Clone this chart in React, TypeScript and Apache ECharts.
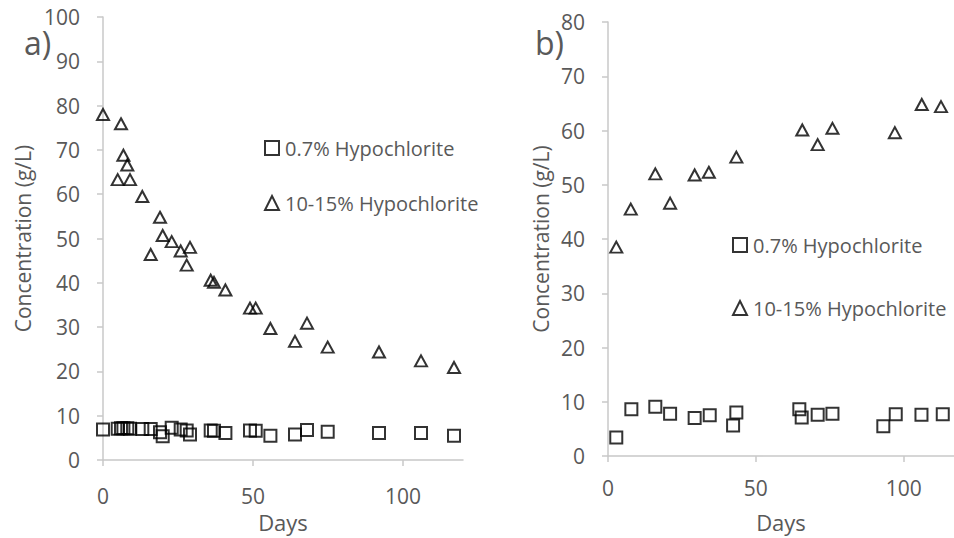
import React, { useEffect, useRef } from "react";
import * as echarts from "echarts";

const seriesNames = ["0.7% Hypochlorite", "10-15% Hypochlorite"];

// Panel a)
const daysA = [0, 4.9, 6, 6.8, 8.1, 9, 13.1, 15.9, 19, 19.9, 22.9, 25.9, 27.9, 29, 35.9, 37, 40.8, 49, 50.9, 55.8, 64, 68, 74.9, 92, 106, 117];
const lowA = [6.9, 7.1, 7.2, 7.2, 7.2, 7.1, 7.0, 7.0, 6.3, 5.4, 7.3, 6.9, 6.7, 5.8, 6.7, 6.6, 6.1, 6.7, 6.6, 5.5, 5.8, 6.8, 6.4, 6.1, 6.1, 5.5];
const highA = [78.0, 63.3, 75.9, 68.8, 66.6, 63.3, 59.5, 46.4, 54.8, 50.7, 49.3, 47.2, 44.0, 48.0, 40.6, 40.1, 38.4, 34.3, 34.3, 29.7, 26.8, 30.9, 25.5, 24.4, 22.4, 20.9];

// Panel b)
const daysLowB = [2.8, 7.9, 16, 21, 29.3, 34.4, 43.4, 42.3, 64.7, 65.5, 70.9, 75.9, 93.1, 97.3, 106, 113.2];
const lowB = [3.4, 8.6, 9.1, 7.8, 7.0, 7.5, 8.0, 5.6, 8.6, 7.1, 7.6, 7.8, 5.5, 7.7, 7.6, 7.7];
const daysHighB = [2.8, 7.7, 16, 21, 29.3, 34.1, 43.4, 65.7, 70.9, 75.9, 97, 106.1, 112.6];
const highB = [38.5, 45.5, 52.0, 46.6, 51.8, 52.3, 55.1, 60.1, 57.4, 60.4, 59.6, 64.8, 64.4];

const xTicks = [0, 50, 100];

const FONT = "Open Sans";
const GREY = "#595959";
const AXIS = "#c8c8c8";

function pairs(xs: number[], ys: number[]) {
  return xs.map((x, i) => [x, ys[i]]);
}

export default function App() {
  const ref = useRef<HTMLDivElement>(null);
  useEffect(() => {
    if (!ref.current) return;
    const chart = echarts.init(ref.current, null, { renderer: "svg" });
    const markerStyle = { color: "rgba(0,0,0,0)", borderColor: "#000", borderWidth: 2 };
    const xAxisBase = (gridIndex: number, max: number, margin: number, nameGap: number) => ({
      type: "value",
      gridIndex,
      min: 0,
      max,
      interval: 50,
      name: "Days",
      nameLocation: "middle",
      nameGap,
      nameTextStyle: { fontFamily: FONT, fontSize: 22, color: GREY },
      axisLine: { show: true, lineStyle: { color: AXIS, width: 1.5 } },
      axisTick: { show: true, length: 6, lineStyle: { color: AXIS, width: 1.5 }, customValues: xTicks },
      axisLabel: { fontFamily: FONT, fontSize: 21, color: GREY, margin, customValues: xTicks },
      splitLine: { show: false },
    });
    const yAxisBase = (gridIndex: number, max: number, nameGap: number) => ({
      type: "value",
      gridIndex,
      min: 0,
      max,
      interval: 10,
      name: "Concentration (g/L)",
      nameLocation: "middle",
      nameGap,
      nameTextStyle: { fontFamily: FONT, fontSize: 21, color: GREY },
      axisLine: { show: true, lineStyle: { color: AXIS, width: 1.5 } },
      axisTick: { show: true, length: 6, lineStyle: { color: AXIS, width: 1.5 } },
      axisLabel: { fontFamily: FONT, fontSize: 21, color: GREY, margin: 23 },
      splitLine: { show: false },
    });
    const legendBase = (left: number, top: number, itemGap: number) => ({
      orient: "vertical",
      left,
      top,
      itemGap,
      itemWidth: 14,
      itemHeight: 14,
      textStyle: { fontFamily: FONT, fontSize: 20, color: GREY, lineHeight: 22, padding: [0, 0, 0, 1] },
      data: [
        { name: seriesNames[0], icon: "rect", itemStyle: markerStyle },
        { name: seriesNames[1], icon: "triangle", itemStyle: markerStyle },
      ],
      selectedMode: false,
    });
    chart.setOption({
      animation: false,
      backgroundColor: "#fff",
      grid: [
        { left: 103, top: 17, right: 491, bottom: 75 },
        { left: 608, top: 22, right: 0, bottom: 81 },
      ],
      xAxis: [xAxisBase(0, 120, 25, 46), xAxisBase(1, 117, 21, 55)],
      yAxis: [yAxisBase(0, 100, 70), yAxisBase(1, 80, 57)],
      legend: [legendBase(259, 132, 33), legendBase(727, 229, 41)],
      graphic: [
        { type: "text", left: 24, top: 26, style: { text: "a)", fontFamily: FONT, fontSize: 32, fill: GREY } },
        { type: "text", left: 535, top: 26, style: { text: "b)", fontFamily: FONT, fontSize: 32, fill: GREY } },
      ],
      series: [
        { type: "scatter", name: seriesNames[0], xAxisIndex: 0, yAxisIndex: 0, symbol: "rect", symbolSize: 12, itemStyle: markerStyle, data: pairs(daysA, lowA) },
        { type: "scatter", name: seriesNames[1], xAxisIndex: 0, yAxisIndex: 0, symbol: "triangle", symbolSize: [12, 11], itemStyle: markerStyle, data: pairs(daysA, highA) },
        { type: "scatter", name: seriesNames[0], xAxisIndex: 1, yAxisIndex: 1, symbol: "rect", symbolSize: 12, itemStyle: markerStyle, data: pairs(daysLowB, lowB) },
        { type: "scatter", name: seriesNames[1], xAxisIndex: 1, yAxisIndex: 1, symbol: "triangle", symbolSize: [12, 11], itemStyle: markerStyle, data: pairs(daysHighB, highB) },
      ],
    });
    return () => chart.dispose();
  }, []);
  return <div ref={ref} style={{ position: "fixed", left: 0, top: 0, width: 954, height: 538 }} />;
}
